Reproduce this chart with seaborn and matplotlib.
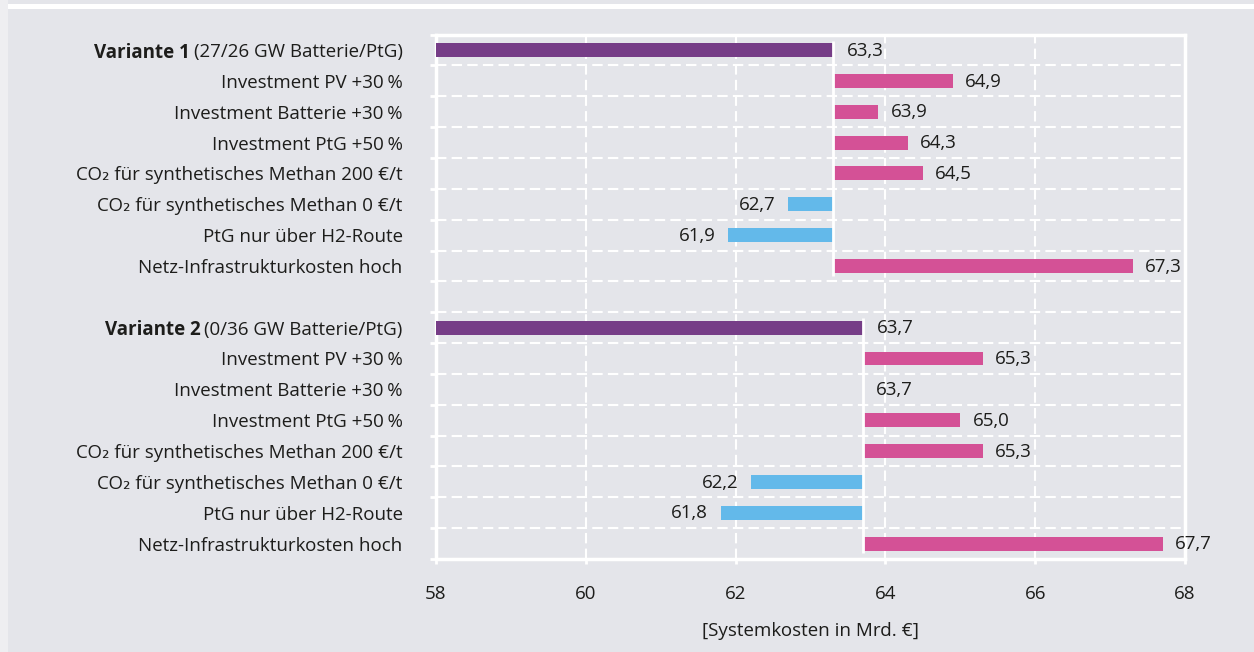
import matplotlib
matplotlib.use("Agg")
import os
import matplotlib.pyplot as plt
import matplotlib.transforms as mtransforms
from matplotlib import font_manager as fm
from matplotlib.patches import Rectangle
import numpy as np
import pandas as pd
import seaborn as sns

# ---- data -------------------------------------------------------------
scenario_labels = [
    "Investment PV +30\u2009%",
    "Investment Batterie +30\u2009%",
    "Investment PtG +50\u2009%",
    "CO\u2082 für synthetisches Methan 200 €/t",
    "CO\u2082 für synthetisches Methan 0 €/t",
    "PtG nur über H2-Route",
    "Netz-Infrastrukturkosten hoch",
]
variant_names = ["Variante 1", "Variante 2"]
variant_details = ["(27/26 GW Batterie/PtG)", "(0/36 GW Batterie/PtG)"]
variant_costs = [63.3, 63.7]
scenario_costs_v1 = [64.9, 63.9, 64.3, 64.5, 62.7, 61.9, 67.3]
scenario_costs_v2 = [65.3, 63.7, 65.0, 65.3, 62.2, 61.8, 67.7]
x_ticks = [58, 60, 62, 64, 66, 68]
x_label = "[Systemkosten in Mrd. €]"

# ---- fonts ------------------------------------------------------------
# Stick to the static Open Sans files so regular and bold resolve the
# same way every time (the variable file would tie with the regular one).
fm.fontManager.ttflist = [
    f for f in fm.fontManager.ttflist
    if not (f.name == "Open Sans" and "[" in os.path.basename(f.fname))
]
if hasattr(fm.fontManager, "_findfont_cached"):
    try:
        fm.fontManager._findfont_cached.cache_clear()
    except AttributeError:
        pass

# ---- style ------------------------------------------------------------
BG = "#e4e5ea"
STRIP = "#eeeef1"
PURPLE = "#763d87"
PINK = "#d45196"
BLUE = "#63b9ea"
TEXT = "#1d1d1b"
FS = 13.5

sns.set_theme(style="white")
plt.rcParams["font.family"] = ["Open Sans", "DejaVu Sans"]
plt.rcParams["text.color"] = TEXT
plt.rcParams["axes.labelcolor"] = TEXT
plt.rcParams["xtick.color"] = TEXT
plt.rcParams["ytick.color"] = TEXT

fig = plt.figure(figsize=(12.54, 6.52), dpi=100, facecolor=BG)
ax = fig.add_axes([436 / 1254, 1 - 559 / 652, (1185 - 436) / 1254, (559 - 34.6) / 652])
ax.set_facecolor(BG)

# page decorations: light strip on the left, white rule along the top
fig.patches.append(Rectangle((0, 0), 8 / 1254, 1, transform=fig.transFigure,
                             facecolor=STRIP, edgecolor="none", zorder=-5))
fig.patches.append(Rectangle((8 / 1254, 1 - 9.3 / 652), 1, 5 / 652,
                             transform=fig.transFigure, facecolor="white",
                             edgecolor="none", zorder=-5))

BAR_H = 0.45
groups = [
    (variant_costs[0], scenario_costs_v1),
    (variant_costs[1], scenario_costs_v2),
]
ytick_pos, ytick_lab = [], []
start = 0
for g, (base, costs) in enumerate(groups):
    vpos = start
    spos = np.arange(start + 1, start + 1 + len(costs))
    # variant total
    sns.barplot(x=[base], y=[vpos], orient="y", native_scale=True,
                width=BAR_H, color=PURPLE, saturation=1, errorbar=None,
                ax=ax, linewidth=0, zorder=3)
    # scenario deviations from the variant's total
    df = pd.DataFrame({
        "pos": spos,
        "cost": costs,
    })
    df["delta"] = df["cost"] - base
    df["kind"] = np.where(df["delta"] < 0, "lower", "higher")
    sns.barplot(data=df, x="delta", y="pos", hue="kind", orient="y",
                native_scale=True, dodge=False, width=BAR_H, saturation=1,
                palette={"higher": PINK, "lower": BLUE},
                hue_order=["higher", "lower"], errorbar=None, legend=False,
                left=base, ax=ax, linewidth=0, zorder=3)
    # baseline of the group
    ax.plot([base, base], [vpos - 0.3, spos[-1] + 0.32], color="white",
            lw=2, zorder=4, solid_capstyle="butt")

    # value labels
    ax.annotate(f"{base:.1f}".replace(".", ","), xy=(base, vpos),
                xytext=(10, -0.5), textcoords="offset points",
                ha="left", va="center", fontsize=FS, zorder=5)
    for p, c in zip(spos, costs):
        d = c - base
        off = -9 if d < 0 else 9
        ax.annotate(f"{c:.1f}".replace(".", ","), xy=(c, p),
                    xytext=(off, -0.5), textcoords="offset points",
                    ha="right" if d < 0 else "left", va="center",
                    fontsize=FS, zorder=5)

    ytick_pos += [vpos] + list(spos)
    ytick_lab += [variant_details[g]] + scenario_labels
    start = spos[-1] + 2

n_rows = start - 1
ax.set_xlim(x_ticks[0], x_ticks[-1])
ax.set_ylim(n_rows - 0.5, -0.5)
ax.set_xticks(x_ticks)
ax.set_xticklabels([str(t) for t in x_ticks], fontsize=FS)
ax.set_yticks(ytick_pos)
ax.set_yticklabels(ytick_lab, fontsize=FS)
ax.set_yticks(np.arange(-0.5, n_rows), minor=True)
ax.set_ylabel("")
ax.set_xlabel(x_label, fontsize=FS, labelpad=14)

# grid, spines and ticks in white
ax.grid(False)
ax.grid(axis="x", which="major", color="white", lw=1.5, ls=(0, (5, 2.5)), zorder=1)
ax.grid(axis="y", which="minor", color="white", lw=1.5, ls=(0, (5, 2.5)), zorder=1)
for s in ax.spines.values():
    s.set_color("white")
    s.set_linewidth(2.5)
    s.set_visible(True)
ax.tick_params(axis="y", which="major", length=0, pad=24)
ax.tick_params(axis="y", which="minor", length=4.5, width=2, color="white", left=True)
ax.tick_params(axis="x", which="major", length=3.5, width=2, color="white",
               bottom=True, pad=15)

# bold variant names in front of their tick labels
fig.canvas.draw()
renderer = fig.canvas.get_renderer()
blend = mtransforms.blended_transform_factory(ax.transAxes, ax.transData)
for tl in ax.get_yticklabels():
    txt = tl.get_text()
    if txt in variant_details:
        idx = variant_details.index(txt)
        bb = tl.get_window_extent(renderer)
        x_ax = ax.transAxes.inverted().transform((bb.x0 - 4, 0))[0]
        ax.text(x_ax, tl.get_position()[1], variant_names[idx], transform=blend,
                ha="right", va="center_baseline", fontsize=FS,
                fontweight="bold", clip_on=False)

fig.savefig("out.png", dpi=100, facecolor=BG)
